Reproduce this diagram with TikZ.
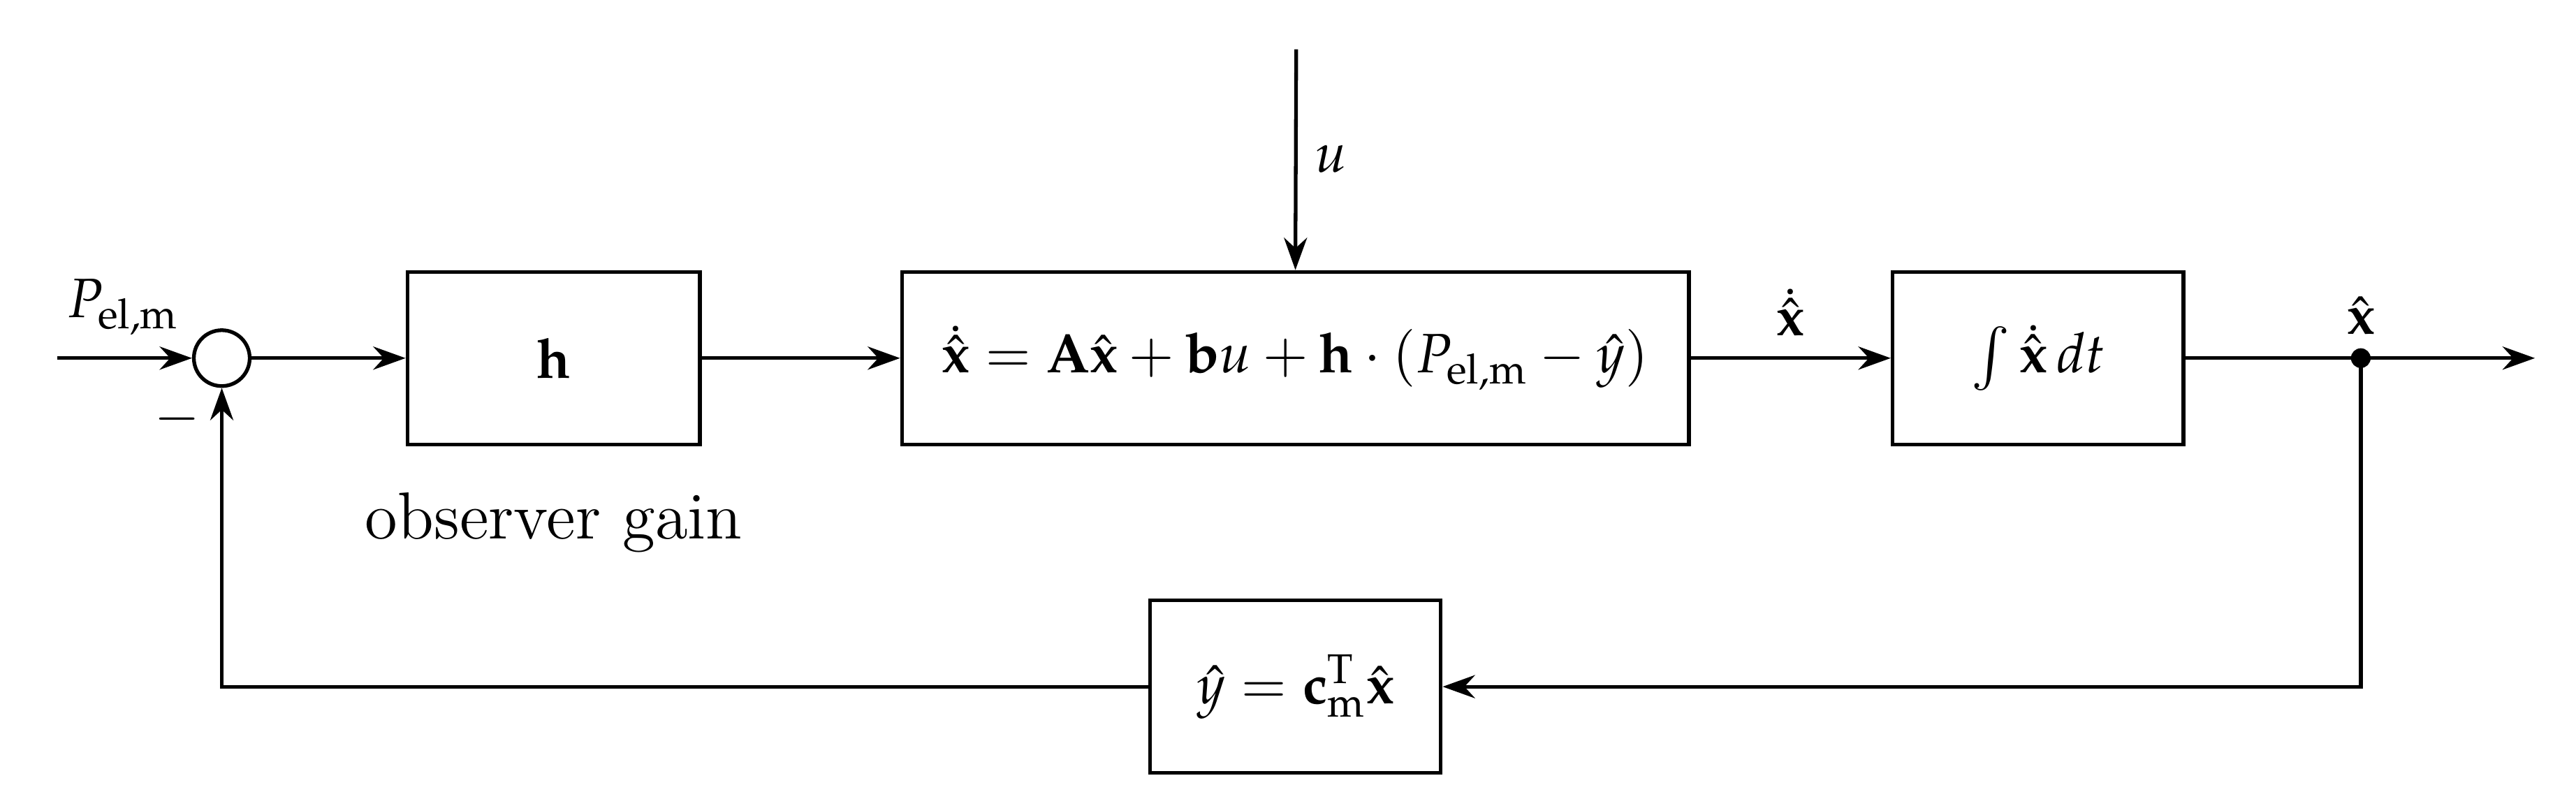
\documentclass[tikz,border=0pt]{standalone}
\usepackage{mathpazo}
\usepackage{amsmath,bm}
\usetikzlibrary{arrows.meta}
\begin{document}
\begin{tikzpicture}[x=0.0125cm,y=-0.0125cm,
  blk/.style={draw,thick,minimum height=105*0.0125cm,inner sep=0pt},
  arr/.style={thick,-{Stealth[length=7pt,width=5pt]}},
  ln/.style={thick},
  every node/.style={font=\large}]
\useasboundingbox (0,0) rectangle (1568,486);
\node[draw,thick,circle,minimum size=34*0.0125cm,inner sep=0pt] (sum) at (135,218) {};
\coordinate (in) at (35,218);
\node (pl) at (75,187) {$P_{\mathrm{el,m}}$};
\node at (108,255) {$-$};
\node[blk,minimum width=178*0.0125cm] (h) at (337,218) {$\mathbf{h}$};
\node[font=\Large] at (337,318) {observer gain};
\node[blk,minimum width=479*0.0125cm] (obs) at (788.5,218) {$\dot{\hat{\mathbf{x}}}=\mathbf{A}\hat{\mathbf{x}}+\mathbf{b}u+\mathbf{h}\cdot(P_{\mathrm{el,m}}-\hat{y})$};
\coordinate (utop) at (789,30);
\node at (810,97) {$u$};
\node[blk,minimum width=177*0.0125cm] (int) at (1240.5,218) {$\int\dot{\hat{\mathbf{x}}}\,dt$};
\node at (1090,190) {$\dot{\hat{\mathbf{x}}}$};
\fill (1437,218) circle (6);
\coordinate (dot) at (1437,218);
\node at (1437,192) {$\hat{\mathbf{x}}$};
\coordinate (out) at (1543,218);
\node[blk,minimum width=177*0.0125cm] (fb) at (788.5,418) {$\hat{y}=\mathbf{c}_{\mathrm{m}}^{\mathrm{T}}\hat{\mathbf{x}}$};
\draw[arr] (in) -- (sum.west);
\draw[arr] (sum.east) -- (h.west);
\draw[arr] (h.east) -- (obs.west);
\draw[arr] (utop) -- (obs.north);
\draw[arr] (obs.east) -- (int.west);
\draw[ln] (int.east) -- (dot);
\draw[arr] (dot) -- (out);
\draw[arr] (dot) |- (fb.east);
\draw[arr] (fb.west) -| (sum.south);
\end{tikzpicture}
\end{document}
